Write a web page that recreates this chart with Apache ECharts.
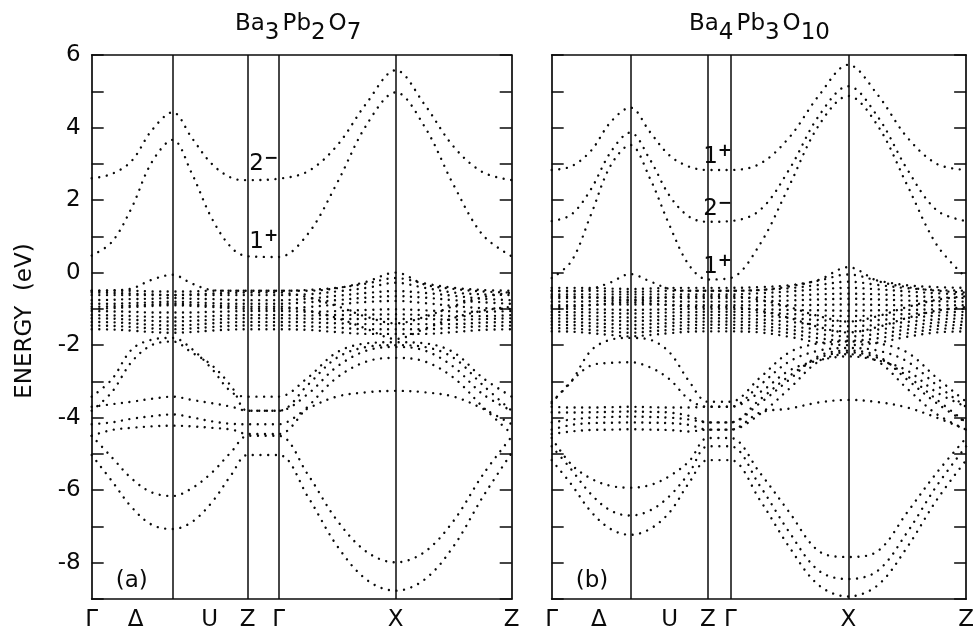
<!DOCTYPE html>
<html><head><meta charset="utf-8">
<script src="https://cdn.jsdelivr.net/npm/echarts@6/dist/echarts.min.js"></script>
<style>html,body{margin:0;padding:0;background:#fff}#c{width:977px;height:632px}</style>
</head><body><div id="c"></div>
<script>
// ---- k-path sample positions (path distance) ----
const K_LEFT  = [0,20,40,60,81,100,120,140,156,187,216,245,275,304,333,362,391,420];
const K_RIGHT = [0,20,40,60,80,100,120,140,159,182,212,242,272,302,332,362,392,422];
const NODES_LEFT  = [81,156,187,304];
const NODES_RIGHT = [80,159,182,302];
const TICKS_LEFT  = [0,44,118,156,187,304,420];
const TICKS_RIGHT = [0,48,120,159,182,302,422];
const TICK_NAMES  = ['Γ','Δ','U','Z','Γ','X','Z'];

// ---- Ba3Pb2O7 bands (eV) ----
const L_C2 = [2.60,2.72,3.08,3.92,4.42,3.72,3.00,2.61,2.55,2.59,2.79,3.49,4.68,5.58,4.63,3.47,2.77,2.55];
const L_C1 = [0.47,0.84,1.79,3.04,3.66,2.74,1.50,0.68,0.45,0.43,1.06,2.45,4.08,4.97,4.02,2.41,1.04,0.45];
const L_V0 = [-0.50,-0.49,-0.44,-0.20,-0.06,-0.30,-0.48,-0.50,-0.50,-0.50,-0.50,-0.43,-0.25,0.00,-0.33,-0.45,-0.52,-0.55];
const L_D1 = [-0.50,-0.50,-0.50,-0.52,-0.52,-0.52,-0.50,-0.50,-0.50,-0.50,-0.48,-0.42,-0.30,-0.15,-0.30,-0.42,-0.48,-0.50];
const L_D2 = [-0.62,-0.62,-0.62,-0.62,-0.62,-0.62,-0.62,-0.62,-0.62,-0.62,-0.60,-0.52,-0.42,-0.28,-0.42,-0.55,-0.60,-0.62];
const L_D3 = [-0.76,-0.75,-0.73,-0.72,-0.70,-0.72,-0.73,-0.75,-0.76,-0.76,-0.72,-0.64,-0.56,-0.51,-0.56,-0.64,-0.72,-0.76];
const L_D4 = [-0.86,-0.86,-0.84,-0.82,-0.80,-0.82,-0.84,-0.86,-0.86,-0.86,-0.82,-0.76,-0.69,-0.65,-0.69,-0.76,-0.82,-0.86];
const L_D5 = [-1.00,-0.98,-0.95,-0.92,-0.90,-0.92,-0.95,-0.98,-1.00,-1.00,-0.95,-0.88,-0.81,-0.78,-0.84,-0.92,-0.98,-1.00];
const L_D6 = [-1.06,-1.07,-1.08,-1.10,-1.10,-1.10,-1.08,-1.07,-1.06,-1.06,-1.08,-1.06,-1.03,-1.01,-1.04,-1.07,-1.08,-1.06];
const L_D7 = [-1.17,-1.18,-1.20,-1.22,-1.24,-1.22,-1.20,-1.18,-1.17,-1.17,-1.18,-1.17,-1.16,-1.15,-1.17,-1.20,-1.20,-1.17];
const L_D8 = [-1.26,-1.27,-1.30,-1.33,-1.35,-1.33,-1.30,-1.27,-1.26,-1.26,-1.27,-1.28,-1.28,-1.28,-1.28,-1.30,-1.28,-1.26];
const L_D9 = [-1.36,-1.37,-1.40,-1.44,-1.46,-1.44,-1.40,-1.37,-1.36,-1.36,-1.37,-1.40,-1.42,-1.42,-1.42,-1.42,-1.38,-1.36];
const L_D10 = [-1.46,-1.47,-1.50,-1.54,-1.56,-1.54,-1.50,-1.47,-1.46,-1.46,-1.48,-1.52,-1.56,-1.56,-1.56,-1.52,-1.48,-1.46];
const L_D11 = [-1.56,-1.57,-1.60,-1.64,-1.66,-1.64,-1.60,-1.57,-1.56,-1.56,-1.58,-1.64,-1.69,-1.69,-1.69,-1.64,-1.58,-1.56];
const L_D12 = [-0.94,-0.93,-0.91,-0.88,-0.86,-0.88,-0.91,-0.93,-0.94,-0.94,-1.05,-1.25,-1.55,-1.83,-1.55,-1.25,-1.05,-0.94];
const L_D13 = [-0.55,-0.56,-0.58,-0.60,-0.62,-0.60,-0.58,-0.56,-0.55,-0.55,-0.68,-0.92,-1.22,-1.40,-1.22,-0.92,-0.68,-0.55];
const L_P  = [-3.42,-2.95,-2.12,-1.85,-1.80,-2.10,-2.65,-3.30,-3.42,-3.42,-2.90,-2.20,-1.95,-1.92,-1.95,-2.20,-2.90,-3.42];
const L_Q  = [-3.81,-3.30,-2.46,-2.00,-1.90,-2.20,-2.55,-3.15,-3.81,-3.81,-3.10,-2.35,-2.05,-2.00,-2.05,-2.35,-3.10,-3.81];
const L_F1 = [-3.70,-3.63,-3.56,-3.48,-3.42,-3.51,-3.60,-3.70,-3.81,-3.81,-3.35,-2.60,-2.15,-2.05,-2.15,-2.60,-3.35,-3.81];
const L_F2 = [-4.18,-4.13,-4.03,-3.96,-3.91,-3.99,-4.10,-4.17,-4.18,-4.18,-3.75,-3.42,-3.30,-3.26,-3.30,-3.42,-3.75,-4.18];
const L_F3 = [-4.50,-4.34,-4.28,-4.24,-4.22,-4.24,-4.28,-4.33,-4.45,-4.45,-3.70,-2.90,-2.45,-2.35,-2.45,-2.90,-3.70,-4.45];
const L_B  = [-4.50,-5.09,-5.68,-6.06,-6.16,-5.95,-5.52,-4.93,-4.50,-4.50,-5.56,-6.82,-7.70,-7.99,-7.70,-6.84,-5.58,-4.52];
const L_A  = [-5.03,-5.74,-6.47,-6.95,-7.07,-6.88,-6.34,-5.56,-5.03,-5.03,-6.17,-7.52,-8.47,-8.77,-8.46,-7.54,-6.19,-4.97];

// ---- Ba4Pb3O10 bands (eV) ----
const R_C3 = [2.83,2.93,3.36,4.15,4.55,3.88,3.23,2.92,2.83,2.83,3.00,3.73,4.88,5.73,4.90,3.73,3.00,2.83];
const R_C2 = [1.42,1.60,2.30,3.32,3.86,3.12,2.12,1.54,1.40,1.42,1.72,2.85,4.32,5.14,4.30,2.85,1.72,1.42];
const R_C1 = [-0.15,0.31,1.60,2.95,3.52,2.60,1.30,0.20,-0.19,-0.15,0.78,2.40,4.06,4.87,4.05,2.41,0.77,-0.14];
const R_V0 = [-0.50,-0.52,-0.45,-0.27,-0.04,-0.24,-0.45,-0.50,-0.50,-0.50,-0.48,-0.38,-0.20,0.15,-0.23,-0.40,-0.50,-0.55];
const R_D1 = [-0.42,-0.42,-0.42,-0.44,-0.45,-0.44,-0.42,-0.42,-0.42,-0.42,-0.40,-0.35,-0.22,-0.05,-0.22,-0.35,-0.40,-0.42];
const R_D2 = [-0.50,-0.50,-0.50,-0.52,-0.53,-0.52,-0.50,-0.50,-0.50,-0.50,-0.48,-0.43,-0.34,-0.25,-0.34,-0.43,-0.48,-0.50];
const R_D3 = [-0.60,-0.60,-0.60,-0.60,-0.60,-0.60,-0.60,-0.60,-0.60,-0.60,-0.57,-0.52,-0.46,-0.42,-0.46,-0.52,-0.57,-0.60];
const R_D4 = [-0.70,-0.70,-0.69,-0.68,-0.68,-0.68,-0.69,-0.70,-0.70,-0.70,-0.68,-0.64,-0.60,-0.58,-0.60,-0.64,-0.68,-0.70];
const R_D5 = [-0.80,-0.80,-0.79,-0.78,-0.77,-0.78,-0.79,-0.80,-0.80,-0.80,-0.79,-0.77,-0.74,-0.72,-0.74,-0.77,-0.79,-0.80];
const R_D6 = [-0.90,-0.90,-0.89,-0.88,-0.88,-0.88,-0.89,-0.90,-0.90,-0.90,-0.90,-0.90,-0.89,-0.88,-0.89,-0.90,-0.90,-0.90];
const R_D7 = [-1.00,-1.00,-1.01,-1.02,-1.03,-1.02,-1.01,-1.00,-1.00,-1.00,-1.01,-1.03,-1.04,-1.05,-1.04,-1.03,-1.01,-1.00];
const R_D8 = [-1.08,-1.09,-1.10,-1.12,-1.13,-1.12,-1.10,-1.09,-1.08,-1.08,-1.10,-1.14,-1.18,-1.20,-1.18,-1.14,-1.10,-1.08];
const R_D9 = [-1.17,-1.18,-1.20,-1.22,-1.24,-1.22,-1.20,-1.18,-1.17,-1.17,-1.19,-1.25,-1.31,-1.34,-1.31,-1.25,-1.19,-1.17];
const R_D10 = [-1.26,-1.27,-1.29,-1.32,-1.34,-1.32,-1.29,-1.27,-1.26,-1.26,-1.29,-1.36,-1.44,-1.48,-1.44,-1.36,-1.29,-1.26];
const R_D11 = [-1.35,-1.36,-1.39,-1.42,-1.45,-1.42,-1.39,-1.36,-1.35,-1.35,-1.38,-1.47,-1.57,-1.62,-1.57,-1.47,-1.38,-1.35];
const R_D12 = [-1.44,-1.45,-1.48,-1.52,-1.55,-1.52,-1.48,-1.45,-1.44,-1.44,-1.47,-1.57,-1.69,-1.76,-1.69,-1.57,-1.47,-1.44];
const R_D13 = [-1.53,-1.54,-1.58,-1.62,-1.66,-1.62,-1.58,-1.54,-1.53,-1.53,-1.56,-1.67,-1.81,-1.88,-1.81,-1.67,-1.56,-1.53];
const R_D14 = [-1.62,-1.63,-1.67,-1.72,-1.76,-1.72,-1.67,-1.63,-1.62,-1.62,-1.65,-1.77,-1.93,-2.00,-1.93,-1.77,-1.65,-1.62];
const R_D15 = [-0.95,-0.94,-0.90,-0.85,-0.82,-0.85,-0.90,-0.94,-0.95,-0.95,-1.05,-1.25,-1.50,-1.65,-1.50,-1.25,-1.05,-0.95];
const R_D16 = [-0.65,-0.66,-0.68,-0.72,-0.75,-0.72,-0.68,-0.66,-0.65,-0.65,-0.75,-0.95,-1.20,-1.35,-1.20,-0.95,-0.75,-0.65];
const R_P  = [-3.56,-3.00,-2.15,-1.85,-1.80,-1.85,-2.20,-3.00,-3.56,-3.56,-2.90,-2.20,-1.95,-1.90,-1.95,-2.20,-2.90,-3.56];
const R_Q  = [-3.60,-3.00,-2.56,-2.49,-2.47,-2.61,-2.94,-3.50,-3.70,-3.70,-3.30,-2.70,-2.42,-2.31,-2.42,-2.70,-3.30,-3.70];
const R_F1 = [-3.70,-3.72,-3.72,-3.71,-3.70,-3.71,-3.72,-3.72,-3.70,-3.70,-3.10,-2.45,-2.15,-2.08,-2.15,-2.45,-3.10,-3.70];
const R_F2 = [-3.85,-3.86,-3.85,-3.84,-3.83,-3.84,-3.86,-3.95,-4.13,-4.13,-3.50,-2.85,-2.35,-2.20,-2.35,-2.85,-3.50,-4.13];
const R_F3 = [-4.13,-4.05,-4.00,-3.98,-3.97,-3.98,-4.00,-4.05,-4.13,-4.13,-3.60,-2.95,-2.30,-2.15,-2.30,-2.95,-3.60,-4.13];
const R_F4 = [-4.33,-4.20,-4.15,-4.14,-4.13,-4.14,-4.15,-4.20,-4.33,-4.33,-3.86,-3.75,-3.58,-3.51,-3.57,-3.72,-4.00,-4.33];
const R_F5 = [-4.45,-4.38,-4.34,-4.33,-4.32,-4.33,-4.34,-4.38,-4.33,-4.33,-3.90,-3.20,-2.45,-2.25,-2.45,-3.20,-3.90,-4.33];
const R_C  = [-4.56,-5.29,-5.68,-5.88,-5.93,-5.86,-5.61,-5.20,-4.56,-4.56,-5.52,-6.61,-7.68,-7.84,-7.68,-6.61,-5.52,-4.56];
const R_B  = [-4.79,-5.43,-6.11,-6.56,-6.70,-6.56,-6.16,-5.52,-4.79,-4.79,-5.88,-7.16,-8.22,-8.45,-8.22,-7.16,-5.88,-4.79];
const R_A  = [-5.17,-5.84,-6.59,-7.07,-7.23,-7.07,-6.61,-5.79,-5.17,-5.17,-6.27,-7.57,-8.62,-8.93,-8.62,-7.57,-6.27,-5.17];

const LEFT_BANDS = [L_C2,L_C1,L_V0,L_D1,L_D2,L_D3,L_D4,L_D5,L_D6,L_D7,L_D8,L_D9,L_D10,L_D11,L_D12,L_D13,L_P,L_Q,L_F1,L_F2,L_F3,L_B,L_A];
const RIGHT_BANDS = [R_C3,R_C2,R_C1,R_V0,R_D1,R_D2,R_D3,R_D4,R_D5,R_D6,R_D7,R_D8,R_D9,R_D10,R_D11,R_D12,R_D13,R_D14,R_D15,R_D16,R_P,R_Q,R_F1,R_F2,R_F3,R_F4,R_F5,R_C,R_B,R_A];

const TITLE_LEFT  = [['Ba','3'],['Pb','2'],['O','7']];
const TITLE_RIGHT = [['Ba','4'],['Pb','3'],['O','10']];

const FONT = '"DejaVu Sans", "Liberation Sans", sans-serif';
const INK = '#0a0a0a';
const FS = 23;

const chart = echarts.init(document.getElementById('c'), null, {renderer:'canvas'});

const rich = {
  n: {fontSize:FS, fontFamily:FONT, color:INK, lineHeight:25, verticalAlign:'bottom'},
  s: {fontSize:17, fontFamily:FONT, color:INK, fontWeight:'bold', lineHeight:14, verticalAlign:'top'}
};
function textPoint(k, e, txt) {
  return {coord:[k,e], value:0, label:{formatter:txt}};
}

const series = [];
function addPanel(g, K, bands, nodes, labels) {
  bands.forEach((b, i) => {
    const s = {
      type:'line', xAxisIndex:2*g, yAxisIndex:2*g,
      data: K.map((k, j) => [k, b[j]]),
      smooth:0.35, symbol:'none', silent:true, clip:true, animation:false,
      lineStyle:{color:INK, width:2.4, type:[0.01,7.6], cap:'round'}
    };
    if (i === 0) {
      s.markLine = {
        symbol:['none','none'], silent:true, animation:false,
        label:{show:false},
        lineStyle:{color:INK, width:1.5, type:'solid'},
        data: nodes.map(k => ({xAxis:k}))
      };
      s.markPoint = {
        symbol:'rect', symbolSize:1, silent:true, animation:false,
        itemStyle:{color:'rgba(0,0,0,0)'},
        label:{show:true, position:'inside', rich:rich, fontFamily:FONT, fontSize:FS, color:INK},
        data: labels
      };
    }
    series.push(s);
  });
}

addPanel(0, K_LEFT, LEFT_BANDS, NODES_LEFT, [
  textPoint(172, 3.02, '{n|2}{s|−}'),
  textPoint(172, 0.87, '{n|1}{s|+}'),
  textPoint(40, -8.48, '{n|(a)}')
]);
addPanel(1, K_RIGHT, RIGHT_BANDS, NODES_RIGHT, [
  textPoint(169, 3.22, '{n|1}{s|+}'),
  textPoint(169, 1.78, '{n|2}{s|−}'),
  textPoint(169, 0.18, '{n|1}{s|+}'),
  textPoint(41, -8.48, '{n|(b)}')
]);

function xAxes(g, K, ticks) {
  const max = K[K.length-1];
  return [
    {gridIndex:g, type:'value', min:0, max:max, position:'bottom',
     axisLine:{show:true, onZero:false, lineStyle:{color:INK, width:1.7}},
     axisTick:{show:false}, splitLine:{show:false},
     axisLabel:{show:true, customValues:ticks, margin:10, fontSize:FS, fontFamily:FONT, color:INK,
       formatter:(v) => { const i = ticks.indexOf(v); return i >= 0 ? TICK_NAMES[i] : ''; }}},
    {gridIndex:g, type:'value', min:0, max:max, position:'top',
     axisLine:{show:true, onZero:false, lineStyle:{color:INK, width:1.7}},
     axisTick:{show:false}, splitLine:{show:false}, axisLabel:{show:false}}
  ];
}
function yAxes(g, showLabels) {
  const base = {gridIndex:g, type:'value', min:-9, max:6, interval:1,
    splitLine:{show:false},
    axisLine:{show:true, onZero:false, lineStyle:{color:INK, width:1.7}},
    axisTick:{show:true, inside:true, length:12, lineStyle:{color:INK, width:1.5}}};
  return [
    Object.assign({}, base, {position:'left',
      axisLabel:{show:showLabels, margin:11, fontSize:FS, fontFamily:FONT, color:INK,
        formatter:(v) => (v % 2 === 0 ? String(v) : '')}}),
    Object.assign({}, base, {position:'right', axisLabel:{show:false}})
  ];
}

function titleText(parts) {
  return parts.map(p => '{m|' + p[0] + '}{s|' + p[1] + '}').join('');
}
const titleRich = {
  m:{fontSize:FS, fontFamily:FONT, color:INK, lineHeight:23, verticalAlign:'top'},
  s:{fontSize:FS, fontFamily:FONT, color:INK, lineHeight:32, verticalAlign:'bottom', padding:[0,3,0,0]}
};

const option = {
  backgroundColor:'#fff',
  animation:false,
  title:[
    {text:titleText(TITLE_LEFT), left:230, top:8, textStyle:{rich:titleRich, fontSize:FS, fontFamily:FONT, color:INK, fontWeight:'normal'}},
    {text:titleText(TITLE_RIGHT), left:684, top:8, textStyle:{rich:titleRich, fontSize:FS, fontFamily:FONT, color:INK, fontWeight:'normal'}}
  ],
  grid:[
    {left:91.7, top:55, width:420, height:549},
    {left:551.7, top:55, width:422, height:549}
  ],
  xAxis:[...xAxes(0, K_LEFT, TICKS_LEFT), ...xAxes(1, K_RIGHT, TICKS_RIGHT)],
  yAxis:[...yAxes(0, true), ...yAxes(1, false)],
  series:series,
  graphic:[
    {type:'text', x:25, y:321, rotation:Math.PI/2, silent:true, style:{
      text:'ENERGY  (eV)', fontSize:FS, fontFamily:FONT, fill:INK,
      align:'center', verticalAlign:'middle'}}
  ]
};
chart.setOption(option);
</script></body></html>
